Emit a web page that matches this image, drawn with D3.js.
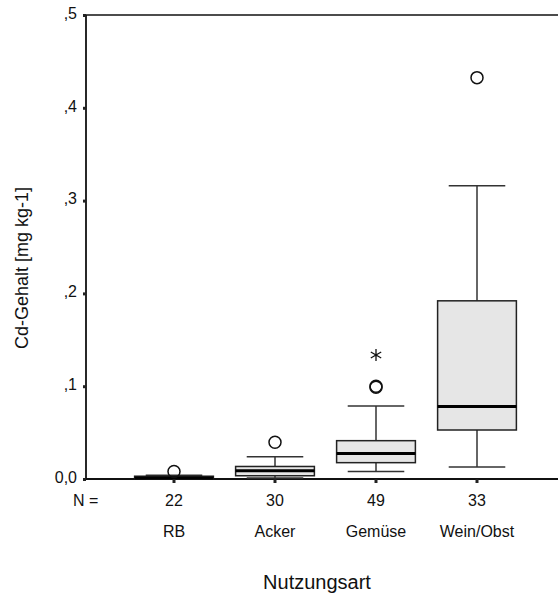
<!DOCTYPE html>
<html>
<head>
<meta charset="utf-8">
<script src="https://cdn.jsdelivr.net/npm/d3@7"></script>
<style>
  html, body { margin: 0; padding: 0; background: #fff; }
  svg { display: block; font-family: Arial, "Liberation Sans", sans-serif; }
</style>
</head>
<body>
<svg id="chart" width="558" height="596"></svg>
<script>
// ---- data ----
const categories = ["RB", "Acker", "Gemüse", "Wein/Obst"];
const counts = [22, 30, 49, 33];
const whiskerLow = [0.0, 0.001, 0.008, 0.013];
const q1 = [0.0, 0.0035, 0.0176, 0.0528];
const median = [0.001, 0.009, 0.0275, 0.078];
const q3 = [0.003, 0.0135, 0.0413, 0.192];
const whiskerHigh = [0.004, 0.024, 0.0787, 0.316];
const outliers = [[0.008], [0.0396], [0.099, 0.100], [0.4325]];
const extremes = [[], [], [0.1336], []];
const yTicks = [0, 0.1, 0.2, 0.3, 0.4, 0.5];
const yTickLabels = ["0,0", ",1", ",2", ",3", ",4", ",5"];
const yTitle = "Cd-Gehalt [mg kg-1]";
const xTitle = "Nutzungsart";
const nLabel = "N =";

(function () {
const svg = d3.select("#chart");
const axisX = 86, plotTop = 15, plotBottom = 479, rightEdge = 558;
const labelSize = 16;

const y = d3.scaleLinear().domain([0, 0.5]).range([plotBottom, plotTop]);
const x = d3.scaleBand().domain(categories).range([123.5, 527.5]).paddingInner(0.22).paddingOuter(0.11);
const step = x.step();
const boxW = step * 0.78;
const capW = step * 0.56;
const cx = c => x(c) + x.bandwidth() / 2;

const data = categories.map((c, i) => ({
  c, n: counts[i], lo: whiskerLow[i], q1: q1[i], med: median[i], q3: q3[i], hi: whiskerHigh[i],
  out: outliers[i], ext: extremes[i]
}));

svg.append("line").attr("x1", axisX).attr("x2", rightEdge).attr("y1", plotTop).attr("y2", plotTop)
  .attr("stroke", "#111").attr("stroke-width", 1.6);

const yAxis = d3.axisLeft(y).tickValues(yTicks).tickFormat((d, i) => yTickLabels[i]).tickSize(3).tickPadding(6);
const gy = svg.append("g").attr("transform", `translate(${axisX},0)`).call(yAxis);
gy.select(".domain").attr("stroke", "#111").attr("stroke-width", 1.8).attr("d", `M0,${plotBottom}V${plotTop}`);
gy.selectAll(".tick line").attr("stroke", "#222").attr("stroke-width", 3);
gy.selectAll(".tick text").attr("font-size", labelSize).attr("fill", "#111")
  .attr("font-family", "Arial, 'Liberation Sans', sans-serif").attr("dy", "0.2em");

svg.append("line").attr("x1", axisX).attr("x2", rightEdge).attr("y1", plotBottom).attr("y2", plotBottom)
  .attr("stroke", "#111").attr("stroke-width", 1.8);

const g = svg.append("g");
data.forEach(d => {
  const X = cx(d.c);
  g.append("line").attr("x1", X).attr("x2", X).attr("y1", y(d.hi)).attr("y2", y(d.q3))
    .attr("stroke", "#333").attr("stroke-width", 1.5);
  g.append("line").attr("x1", X).attr("x2", X).attr("y1", y(d.q1)).attr("y2", y(d.lo))
    .attr("stroke", "#333").attr("stroke-width", 1.5);
  [d.hi, d.lo].forEach(v => {
    g.append("line").attr("x1", X - capW / 2).attr("x2", X + capW / 2).attr("y1", y(v)).attr("y2", y(v))
      .attr("stroke", "#333").attr("stroke-width", 1.5);
  });
  g.append("rect").attr("x", X - boxW / 2).attr("width", boxW)
    .attr("y", y(d.q3)).attr("height", Math.max(1, y(d.q1) - y(d.q3)))
    .attr("fill", "#e6e6e6").attr("stroke", "#222").attr("stroke-width", 1.5);
  g.append("line").attr("x1", X - boxW / 2).attr("x2", X + boxW / 2).attr("y1", y(d.med)).attr("y2", y(d.med))
    .attr("stroke", "#000").attr("stroke-width", 3);
  d.out.forEach(v => {
    g.append("circle").attr("cx", X).attr("cy", y(v)).attr("r", 6)
      .attr("fill", "none").attr("stroke", "#111").attr("stroke-width", 1.5);
  });
  d.ext.forEach(v => {
    const r = 6, a = Math.PI / 6;
    const px = r * Math.cos(a), py = r * Math.sin(a);
    g.append("path").attr("transform", `translate(${X},${y(v)})`)
      .attr("d", `M0,${-r}V${r}M${-px},${-py}L${px},${py}M${-px},${py}L${px},${-py}`)
      .attr("stroke", "#111").attr("stroke-width", 1.3).attr("fill", "none");
  });
  g.append("line").attr("x1", X).attr("x2", X).attr("y1", plotBottom).attr("y2", plotBottom + 4)
    .attr("stroke", "#222").attr("stroke-width", 3);
  svg.append("text").attr("x", X).attr("y", 506).attr("text-anchor", "middle")
    .attr("font-size", labelSize).attr("fill", "#111").text(d.n);
  svg.append("text").attr("x", X).attr("y", 537).attr("text-anchor", "middle")
    .attr("font-size", labelSize).attr("fill", "#111").text(d.c);
});

svg.append("text").attr("x", 73).attr("y", 506).attr("font-size", labelSize).attr("fill", "#111").text(nLabel);

svg.append("text").attr("x", 317).attr("y", 589).attr("text-anchor", "middle")
  .attr("font-size", 20).attr("fill", "#111").text(xTitle);
svg.append("text").attr("transform", "translate(28,268) rotate(-90)").attr("text-anchor", "middle")
  .attr("font-size", 18).attr("fill", "#111").text(yTitle);
})();
</script>
</body>
</html>
